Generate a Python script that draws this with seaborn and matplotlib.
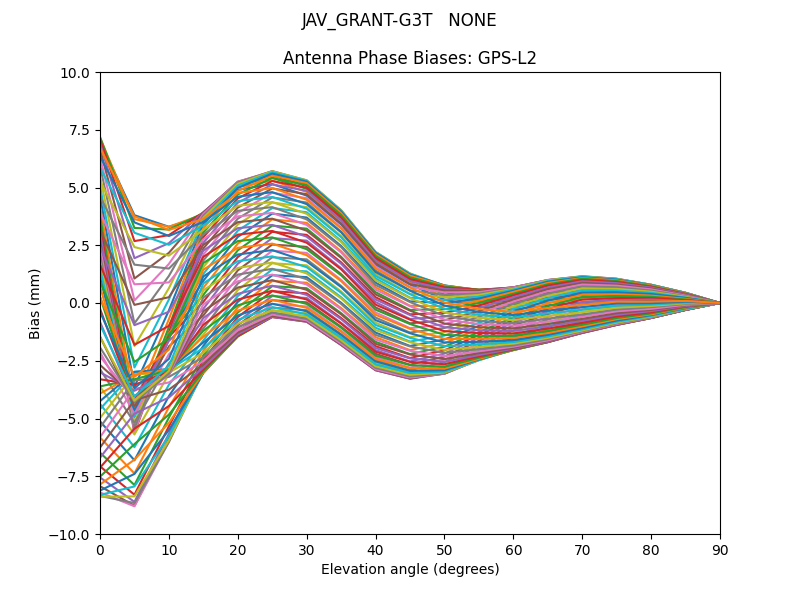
"""
Antenna phase bias curves (GPS-L2) for JAV_GRANT-G3T, one line per azimuth.
"""

import matplotlib
matplotlib.use("Agg")
import matplotlib.pyplot as plt
import pandas as pd
import seaborn as sns

ANTENNA = "JAV_GRANT-G3T   NONE"
TITLE = "Antenna Phase Biases: GPS-L2"

elevations = [0, 5, 10, 15, 20, 25, 30, 35, 40, 45, 50, 55, 60, 65, 70, 75, 80, 85, 90]

# bias (mm) per azimuth (5 deg steps) at each elevation
az000 = [7.00, 3.80, 3.30, 3.75, 4.90, 5.15, 4.65, 3.40, 1.65, 0.80, 0.15, -0.15, -0.28, -0.10, 0.03, 0.15, 0.12, 0.12, 0]
az005 = [7.15, 3.63, 3.30, 3.84, 5.02, 5.30, 4.81, 3.55, 1.78, 0.91, 0.26, -0.04, -0.17, 0.02, 0.14, 0.24, 0.18, 0.15, 0]
az010 = [7.19, 3.25, 3.18, 3.89, 5.12, 5.42, 4.94, 3.68, 1.90, 1.01, 0.37, 0.07, -0.06, 0.13, 0.24, 0.32, 0.25, 0.18, 0]
az015 = [7.10, 2.68, 2.94, 3.92, 5.19, 5.53, 5.06, 3.79, 1.99, 1.10, 0.47, 0.16, 0.05, 0.23, 0.35, 0.41, 0.31, 0.22, 0]
az020 = [6.92, 1.94, 2.59, 3.93, 5.23, 5.61, 5.16, 3.88, 2.08, 1.17, 0.55, 0.24, 0.14, 0.34, 0.44, 0.48, 0.37, 0.25, 0]
az025 = [6.66, 1.06, 2.17, 3.91, 5.25, 5.67, 5.22, 3.94, 2.14, 1.22, 0.62, 0.32, 0.23, 0.44, 0.54, 0.56, 0.42, 0.28, 0]
az030 = [6.32, 0.11, 1.69, 3.86, 5.25, 5.70, 5.28, 3.99, 2.18, 1.26, 0.68, 0.39, 0.32, 0.54, 0.63, 0.64, 0.47, 0.30, 0]
az035 = [5.93, -0.88, 1.17, 3.78, 5.22, 5.71, 5.31, 4.01, 2.21, 1.27, 0.71, 0.45, 0.40, 0.61, 0.71, 0.70, 0.52, 0.32, 0]
az040 = [5.50, -1.86, 0.64, 3.69, 5.16, 5.70, 5.31, 4.02, 2.21, 1.28, 0.75, 0.50, 0.47, 0.69, 0.79, 0.77, 0.57, 0.35, 0]
az045 = [5.06, -2.79, 0.15, 3.56, 5.08, 5.66, 5.29, 4.00, 2.19, 1.26, 0.76, 0.54, 0.52, 0.77, 0.86, 0.82, 0.62, 0.37, 0]
az050 = [4.62, -3.63, -0.32, 3.41, 4.98, 5.60, 5.25, 3.96, 2.17, 1.23, 0.76, 0.56, 0.58, 0.83, 0.92, 0.87, 0.65, 0.38, 0]
az055 = [4.19, -4.34, -0.70, 3.24, 4.85, 5.51, 5.19, 3.89, 2.11, 1.18, 0.75, 0.57, 0.61, 0.88, 0.99, 0.92, 0.69, 0.40, 0]
az060 = [3.78, -4.91, -1.04, 3.05, 4.70, 5.41, 5.10, 3.81, 2.04, 1.11, 0.71, 0.58, 0.65, 0.92, 1.04, 0.96, 0.72, 0.42, 0]
az065 = [3.40, -5.30, -1.28, 2.85, 4.53, 5.28, 4.99, 3.70, 1.95, 1.03, 0.67, 0.57, 0.67, 0.97, 1.08, 0.99, 0.74, 0.43, 0]
az070 = [3.05, -5.55, -1.44, 2.61, 4.34, 5.13, 4.86, 3.58, 1.83, 0.94, 0.61, 0.54, 0.68, 0.99, 1.11, 1.01, 0.77, 0.44, 0]
az075 = [2.72, -5.64, -1.52, 2.36, 4.13, 4.96, 4.71, 3.44, 1.72, 0.82, 0.54, 0.52, 0.68, 0.99, 1.14, 1.04, 0.78, 0.44, 0]
az080 = [2.41, -5.58, -1.53, 2.10, 3.90, 4.77, 4.54, 3.27, 1.58, 0.69, 0.46, 0.47, 0.67, 1.00, 1.15, 1.05, 0.79, 0.44, 0]
az085 = [2.10, -5.43, -1.51, 1.84, 3.65, 4.57, 4.35, 3.09, 1.41, 0.55, 0.35, 0.41, 0.64, 0.99, 1.16, 1.05, 0.79, 0.44, 0]
az090 = [1.80, -5.20, -1.45, 1.55, 3.40, 4.35, 4.15, 2.90, 1.25, 0.40, 0.25, 0.35, 0.62, 0.98, 1.15, 1.04, 0.79, 0.44, 0]
az095 = [1.48, -4.94, -1.38, 1.26, 3.13, 4.11, 3.93, 2.69, 1.07, 0.23, 0.13, 0.27, 0.58, 0.95, 1.14, 1.03, 0.79, 0.44, 0]
az100 = [1.11, -4.68, -1.33, 0.96, 2.86, 3.87, 3.70, 2.47, 0.88, 0.07, 0.00, 0.19, 0.53, 0.92, 1.11, 1.01, 0.77, 0.42, 0]
az105 = [0.72, -4.46, -1.32, 0.66, 2.57, 3.62, 3.47, 2.24, 0.68, -0.12, -0.14, 0.10, 0.48, 0.87, 1.08, 0.98, 0.76, 0.42, 0]
az110 = [0.27, -4.30, -1.36, 0.35, 2.28, 3.35, 3.22, 2.00, 0.47, -0.30, -0.27, 0.00, 0.40, 0.81, 1.05, 0.95, 0.73, 0.40, 0]
az115 = [-0.25, -4.24, -1.46, 0.05, 1.99, 3.08, 2.95, 1.76, 0.25, -0.49, -0.43, -0.11, 0.33, 0.75, 1.00, 0.91, 0.70, 0.39, 0]
az120 = [-0.82, -4.31, -1.64, -0.25, 1.70, 2.81, 2.70, 1.51, 0.04, -0.69, -0.59, -0.22, 0.25, 0.67, 0.94, 0.86, 0.67, 0.37, 0]
az125 = [-1.45, -4.49, -1.88, -0.54, 1.41, 2.53, 2.43, 1.25, -0.19, -0.88, -0.75, -0.35, 0.15, 0.60, 0.87, 0.80, 0.63, 0.34, 0]
az130 = [-2.13, -4.80, -2.22, -0.83, 1.12, 2.26, 2.17, 1.00, -0.41, -1.09, -0.92, -0.46, 0.06, 0.51, 0.80, 0.75, 0.59, 0.32, 0]
az135 = [-2.86, -5.19, -2.61, -1.10, 0.84, 1.98, 1.89, 0.74, -0.63, -1.28, -1.08, -0.60, -0.04, 0.41, 0.72, 0.68, 0.54, 0.29, 0]
az140 = [-3.62, -5.69, -3.07, -1.37, 0.56, 1.72, 1.63, 0.50, -0.85, -1.48, -1.25, -0.72, -0.15, 0.31, 0.63, 0.61, 0.49, 0.27, 0]
az145 = [-4.37, -6.24, -3.54, -1.62, 0.30, 1.45, 1.37, 0.25, -1.07, -1.67, -1.41, -0.86, -0.26, 0.21, 0.55, 0.54, 0.44, 0.24, 0]
az150 = [-5.12, -6.81, -4.03, -1.86, 0.05, 1.20, 1.12, 0.01, -1.28, -1.86, -1.58, -0.99, -0.38, 0.10, 0.45, 0.46, 0.39, 0.22, 0]
az155 = [-5.82, -7.38, -4.51, -2.07, -0.19, 0.95, 0.88, -0.22, -1.48, -2.04, -1.74, -1.12, -0.49, -0.02, 0.36, 0.38, 0.32, 0.18, 0]
az160 = [-6.48, -7.88, -4.96, -2.27, -0.41, 0.73, 0.64, -0.44, -1.68, -2.21, -1.89, -1.26, -0.62, -0.14, 0.26, 0.30, 0.27, 0.15, 0]
az165 = [-7.07, -8.30, -5.34, -2.46, -0.61, 0.51, 0.42, -0.65, -1.87, -2.38, -2.05, -1.38, -0.73, -0.25, 0.15, 0.21, 0.21, 0.12, 0]
az170 = [-7.55, -8.61, -5.66, -2.61, -0.80, 0.30, 0.22, -0.86, -2.04, -2.53, -2.19, -1.51, -0.84, -0.37, 0.04, 0.12, 0.15, 0.08, 0]
az175 = [-7.93, -8.78, -5.88, -2.74, -0.96, 0.12, 0.03, -1.03, -2.20, -2.67, -2.32, -1.64, -0.97, -0.48, -0.06, 0.04, 0.08, 0.05, 0]
az180 = [-8.20, -8.80, -6.00, -2.85, -1.10, -0.05, -0.15, -1.20, -2.35, -2.80, -2.45, -1.75, -1.08, -0.60, -0.17, -0.05, 0.02, 0.02, 0]
az185 = [-8.35, -8.66, -6.02, -2.94, -1.22, -0.20, -0.31, -1.35, -2.48, -2.91, -2.56, -1.86, -1.19, -0.72, -0.28, -0.14, -0.04, -0.01, 0]
az190 = [-8.39, -8.37, -5.94, -2.99, -1.32, -0.32, -0.44, -1.48, -2.60, -3.01, -2.67, -1.97, -1.30, -0.83, -0.38, -0.22, -0.11, -0.04, 0]
az195 = [-8.31, -7.94, -5.76, -3.02, -1.39, -0.43, -0.56, -1.59, -2.69, -3.10, -2.77, -2.06, -1.41, -0.93, -0.49, -0.31, -0.17, -0.08, 0]
az200 = [-8.12, -7.40, -5.50, -3.03, -1.43, -0.51, -0.66, -1.68, -2.78, -3.17, -2.85, -2.14, -1.50, -1.04, -0.58, -0.38, -0.23, -0.11, 0]
az205 = [-7.86, -6.78, -5.19, -3.01, -1.45, -0.57, -0.72, -1.74, -2.84, -3.22, -2.92, -2.22, -1.59, -1.14, -0.68, -0.46, -0.28, -0.14, 0]
az210 = [-7.52, -6.11, -4.83, -2.96, -1.45, -0.60, -0.78, -1.79, -2.88, -3.26, -2.98, -2.29, -1.68, -1.24, -0.77, -0.54, -0.33, -0.16, 0]
az215 = [-7.13, -5.44, -4.46, -2.88, -1.42, -0.61, -0.81, -1.81, -2.91, -3.27, -3.01, -2.36, -1.76, -1.31, -0.85, -0.60, -0.38, -0.18, 0]
az220 = [-6.70, -4.79, -4.09, -2.79, -1.36, -0.60, -0.81, -1.82, -2.91, -3.28, -3.05, -2.40, -1.83, -1.39, -0.93, -0.67, -0.43, -0.21, 0]
az225 = [-6.26, -4.21, -3.75, -2.66, -1.28, -0.56, -0.79, -1.80, -2.89, -3.26, -3.06, -2.44, -1.88, -1.47, -1.00, -0.72, -0.48, -0.23, 0]
az230 = [-5.81, -3.72, -3.44, -2.51, -1.18, -0.50, -0.75, -1.76, -2.87, -3.23, -3.06, -2.46, -1.94, -1.53, -1.06, -0.77, -0.51, -0.23, 0]
az235 = [-5.39, -3.35, -3.20, -2.34, -1.05, -0.41, -0.69, -1.69, -2.81, -3.18, -3.05, -2.47, -1.97, -1.58, -1.13, -0.82, -0.55, -0.26, 0]
az240 = [-4.98, -3.09, -3.02, -2.15, -0.90, -0.31, -0.60, -1.61, -2.74, -3.11, -3.01, -2.48, -2.01, -1.63, -1.18, -0.86, -0.57, -0.27, 0]
az245 = [-4.59, -2.98, -2.90, -1.95, -0.73, -0.18, -0.49, -1.50, -2.65, -3.03, -2.97, -2.47, -2.03, -1.67, -1.22, -0.89, -0.60, -0.29, 0]
az250 = [-4.25, -2.98, -2.86, -1.71, -0.54, -0.03, -0.36, -1.38, -2.53, -2.94, -2.91, -2.44, -2.04, -1.69, -1.25, -0.91, -0.63, -0.30, 0]
az255 = [-3.92, -3.10, -2.86, -1.46, -0.33, 0.14, -0.21, -1.24, -2.42, -2.82, -2.84, -2.42, -2.04, -1.69, -1.28, -0.94, -0.64, -0.30, 0]
az260 = [-3.61, -3.30, -2.91, -1.20, -0.10, 0.33, -0.04, -1.07, -2.28, -2.69, -2.76, -2.37, -2.03, -1.70, -1.29, -0.95, -0.65, -0.30, 0]
az265 = [-3.30, -3.54, -2.98, -0.94, 0.15, 0.53, 0.15, -0.89, -2.11, -2.55, -2.65, -2.31, -2.00, -1.69, -1.30, -0.95, -0.65, -0.30, 0]
az270 = [-3.00, -3.80, -3.05, -0.65, 0.40, 0.75, 0.35, -0.70, -1.95, -2.40, -2.55, -2.25, -1.98, -1.68, -1.29, -0.94, -0.65, -0.30, 0]
az275 = [-2.68, -4.03, -3.11, -0.36, 0.67, 0.99, 0.57, -0.49, -1.77, -2.23, -2.43, -2.17, -1.94, -1.65, -1.28, -0.93, -0.65, -0.30, 0]
az280 = [-2.31, -4.20, -3.11, -0.06, 0.94, 1.23, 0.80, -0.27, -1.58, -2.07, -2.30, -2.09, -1.89, -1.62, -1.25, -0.91, -0.63, -0.28, 0]
az285 = [-1.92, -4.28, -3.06, 0.24, 1.23, 1.48, 1.03, -0.04, -1.38, -1.88, -2.16, -2.00, -1.84, -1.57, -1.22, -0.88, -0.62, -0.28, 0]
az290 = [-1.47, -4.23, -2.94, 0.55, 1.52, 1.75, 1.28, 0.20, -1.17, -1.70, -2.03, -1.90, -1.76, -1.51, -1.19, -0.85, -0.59, -0.26, 0]
az295 = [-0.94, -4.04, -2.72, 0.85, 1.81, 2.02, 1.55, 0.44, -0.95, -1.51, -1.87, -1.79, -1.69, -1.45, -1.14, -0.81, -0.56, -0.25, 0]
az300 = [-0.38, -3.69, -2.42, 1.15, 2.10, 2.29, 1.80, 0.69, -0.74, -1.31, -1.71, -1.68, -1.61, -1.38, -1.08, -0.76, -0.52, -0.22, 0]
az305 = [0.25, -3.20, -2.02, 1.44, 2.39, 2.57, 2.07, 0.95, -0.51, -1.12, -1.55, -1.55, -1.51, -1.30, -1.01, -0.70, -0.49, -0.20, 0]
az310 = [0.94, -2.55, -1.54, 1.73, 2.68, 2.84, 2.33, 1.20, -0.29, -0.91, -1.38, -1.44, -1.42, -1.21, -0.94, -0.65, -0.45, -0.18, 0]
az315 = [1.66, -1.81, -0.99, 2.00, 2.96, 3.12, 2.61, 1.46, -0.07, -0.72, -1.22, -1.30, -1.32, -1.11, -0.86, -0.58, -0.40, -0.15, 0]
az320 = [2.42, -0.96, -0.38, 2.27, 3.24, 3.38, 2.87, 1.70, 0.15, -0.52, -1.05, -1.18, -1.21, -1.01, -0.77, -0.51, -0.35, -0.13, 0]
az325 = [3.17, -0.08, 0.25, 2.52, 3.50, 3.65, 3.13, 1.95, 0.37, -0.33, -0.89, -1.05, -1.10, -0.91, -0.69, -0.44, -0.30, -0.10, 0]
az330 = [3.92, 0.81, 0.89, 2.76, 3.75, 3.90, 3.38, 2.19, 0.58, -0.14, -0.72, -0.91, -0.98, -0.80, -0.59, -0.36, -0.25, -0.08, 0]
az335 = [4.62, 1.66, 1.49, 2.97, 3.99, 4.15, 3.62, 2.42, 0.78, 0.04, -0.56, -0.78, -0.87, -0.68, -0.50, -0.28, -0.18, -0.04, 0]
az340 = [5.28, 2.42, 2.05, 3.17, 4.21, 4.37, 3.86, 2.64, 0.98, 0.21, -0.41, -0.64, -0.74, -0.56, -0.40, -0.20, -0.13, -0.01, 0]
az345 = [5.86, 3.04, 2.52, 3.36, 4.41, 4.59, 4.08, 2.85, 1.17, 0.38, -0.25, -0.52, -0.63, -0.45, -0.29, -0.11, -0.07, 0.02, 0]
az350 = [6.35, 3.49, 2.90, 3.51, 4.60, 4.80, 4.28, 3.06, 1.34, 0.53, -0.11, -0.39, -0.52, -0.33, -0.18, -0.02, -0.01, 0.06, 0]
az355 = [6.73, 3.75, 3.16, 3.64, 4.76, 4.98, 4.47, 3.23, 1.50, 0.67, 0.02, -0.26, -0.39, -0.22, -0.08, 0.06, 0.06, 0.09, 0]

azimuths = list(range(0, 360, 5))
series = [az000, az005, az010, az015, az020, az025, az030, az035, az040,
          az045, az050, az055, az060, az065, az070, az075, az080, az085,
          az090, az095, az100, az105, az110, az115, az120, az125, az130,
          az135, az140, az145, az150, az155, az160, az165, az170, az175,
          az180, az185, az190, az195, az200, az205, az210, az215, az220,
          az225, az230, az235, az240, az245, az250, az255, az260, az265,
          az270, az275, az280, az285, az290, az295, az300, az305, az310,
          az315, az320, az325, az330, az335, az340, az345, az350, az355]


def main() -> None:
    # long form: one row per (azimuth, elevation)
    rows = []
    for az, vals in zip(azimuths, series):
        for el, v in zip(elevations, vals):
            rows.append({"azimuth": az, "elevation": el, "bias": v})
    df = pd.DataFrame(rows)

    # matplotlib default colour cycle, repeated over the azimuths
    tab10 = sns.color_palette("tab10", 10)
    palette = [tab10[i % 10] for i in range(len(azimuths))]

    fig, ax = plt.subplots(figsize=(8, 6), dpi=100)
    sns.lineplot(data=df, x="elevation", y="bias", hue="azimuth",
                 palette=palette, legend=False, errorbar=None,
                 linewidth=1.5, ax=ax)

    ax.set_xlim(0, 90)
    ax.set_ylim(-10, 10)
    ax.set_xticks(range(0, 91, 10))
    ax.set_xlabel("Elevation angle (degrees)")
    ax.set_ylabel("Bias (mm)")
    ax.set_title(TITLE)
    fig.suptitle(ANTENNA)

    fig.savefig("out.png", dpi=100)
    plt.close(fig)


if __name__ == "__main__":
    main()
